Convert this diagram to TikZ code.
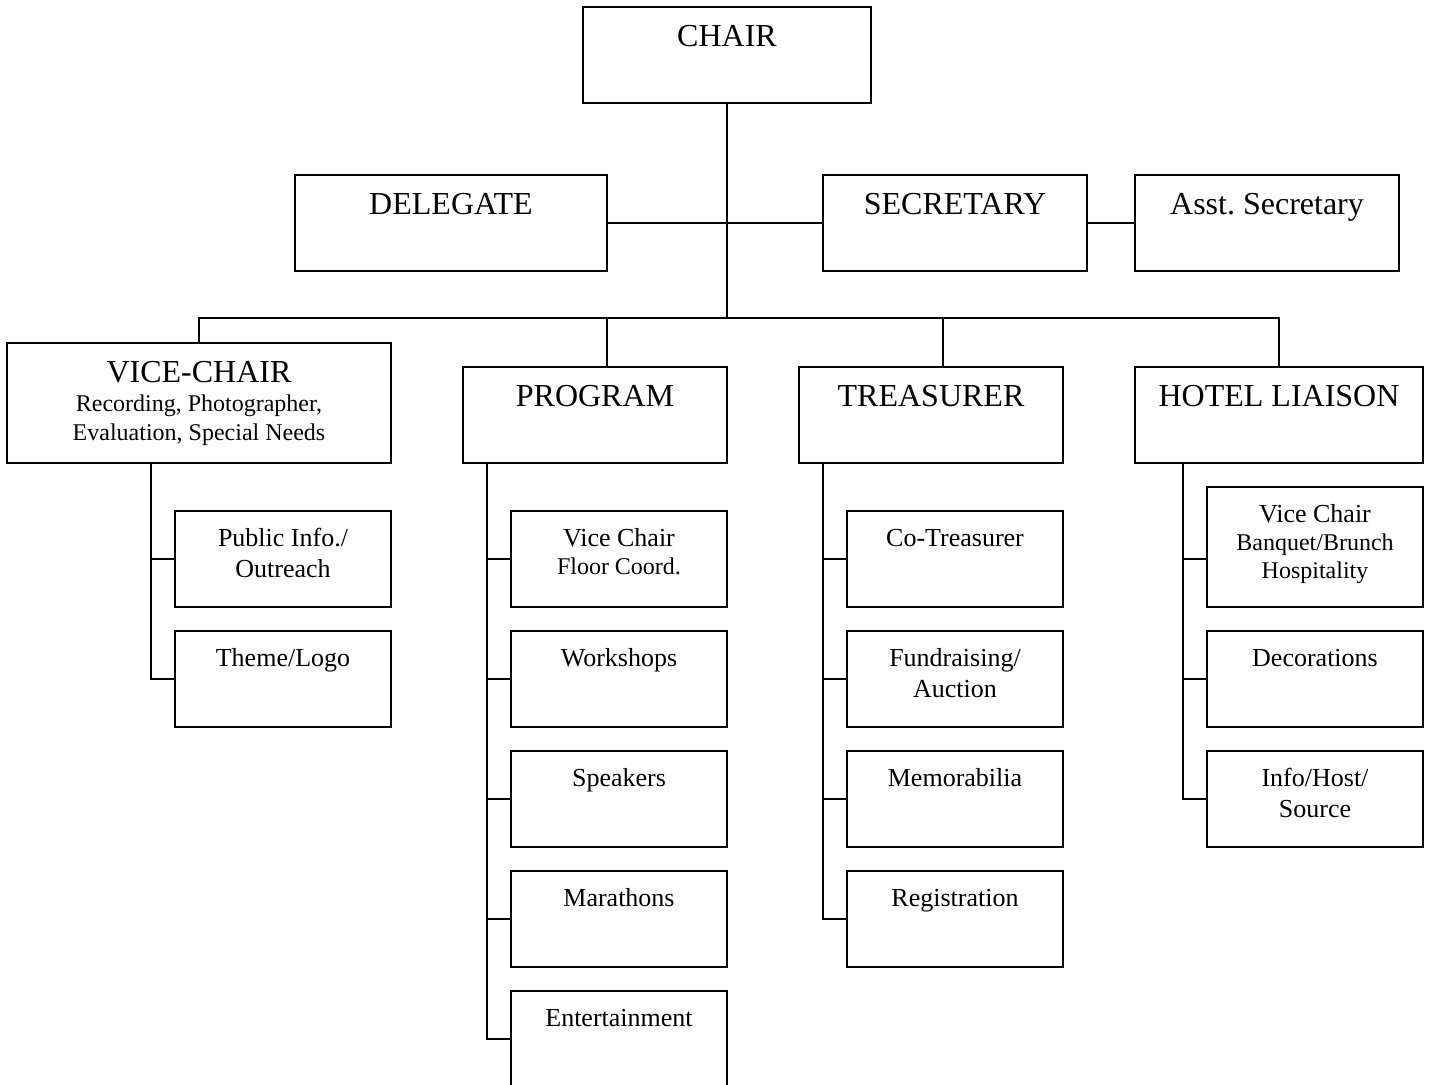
\documentclass[tikz,border=0pt]{standalone}
\usepackage{fontspec}
\setmainfont{Liberation Serif}
\usepackage{tikz}
\usetikzlibrary{positioning}
\usetikzlibrary{calc}
\frenchspacing

\begin{document}
\begin{tikzpicture}[
x=0.5pt, y=-0.5pt,
unitnode/.style={
    rectangle,
    draw=black,
    line width=1pt,
    align=center,
    anchor=north west,
    inner sep=0pt, % No inner spacing
    outer sep=0pt, % No outer spacing
},
headnode/.style={
    unitnode,
    font=\fontsize{16}{19}\selectfont,
    minimum height=48pt,
    text height=20pt,
    text depth=28pt,
},
dutynode/.style={
    unitnode,
    font=\fontsize{13}{15.5}\selectfont,
    minimum width=108pt,
    minimum height=48pt,
    text height=17.5pt,
    text depth=30.5pt,
},
link/.style={draw=black, line width=1pt},
]
\useasboundingbox (0,0) rectangle (1429,1085);

\node[headnode, minimum width=144pt] (chair) at (583,7) {CHAIR};
\node[headnode, minimum width=156pt] (delegate) at (295,175) {DELEGATE};
\node[headnode, minimum width=132pt] (secretary) at (823,175) {SECRETARY};
\node[headnode, minimum width=132pt] (asst) at (1135,175) {Asst.\ Secretary};

\node[headnode, minimum width=192pt, minimum height=60pt, text height=48.5pt, text depth=11.5pt, font=\fontsize{12}{14}\selectfont] (vicechair) at (7,343) {{\fontsize{16}{19}\selectfont VICE-CHAIR}\\[0.5pt] Recording, Photographer,\\ Evaluation, Special Needs};
\node[headnode, minimum width=132pt] (program) at (463,367) {PROGRAM};
\node[headnode, minimum width=132pt] (treasurer) at (799,367) {TREASURER};
\node[headnode, minimum width=144pt] (hotel) at (1135,367) {HOTEL LIAISON};

% vice-chair column
\node[dutynode, text height=33pt, text depth=15pt] (pubinfo) at (175,511) {Public Info./\\Outreach};
\node[dutynode, below=12pt of pubinfo] (theme) {Theme/Logo};

% program column
\node[dutynode, text height=31.5pt, text depth=16.5pt, font=\fontsize{12}{14}\selectfont] (progvice) at (511,511) {{\fontsize{13}{15.5}\selectfont Vice Chair}\\Floor Coord.};
\node[dutynode, below=12pt of progvice] (workshops) {Workshops};
\node[dutynode, below=12pt of workshops] (speakers) {Speakers};
\node[dutynode, below=12pt of speakers] (marathons) {Marathons};
\node[dutynode, below=12pt of marathons] (entertain) {Entertainment};

% treasurer column
\node[dutynode] (cotreas) at (847,511) {Co-Treasurer};
\node[dutynode, text height=33pt, text depth=15pt, below=12pt of cotreas] (fundraising) {Fundraising/\\Auction};
\node[dutynode, below=12pt of fundraising] (memorabilia) {Memorabilia};
\node[dutynode, below=12pt of memorabilia] (registration) {Registration};

% hotel column
\node[dutynode, minimum height=60pt, text height=45.5pt, text depth=14.5pt, font=\fontsize{12}{14}\selectfont] (hotelvice) at (1207,487) {{\fontsize{13}{15.5}\selectfont Vice Chair}\\Banquet/Brunch\\Hospitality};
\node[dutynode, below=12pt of hotelvice] (decorations) {Decorations};
\node[dutynode, text height=33pt, text depth=15pt, below=12pt of decorations] (infohost) {Info/Host/\\Source};

\coordinate (bus) at (727,318);
\draw[link] (chair.south) -- (bus);
\draw[link] (delegate.east) -- (secretary.west);
\draw[link] (secretary.east) -- (asst.west);
\draw[link] (vicechair.north) |- (bus) -| (hotel.north);

\coordinate (progtop) at ($(program.north)+(12,0)$);
\coordinate (treastop) at ($(treasurer.north)+(12,0)$);
\draw[link] (progtop) -- (progtop |- bus);
\draw[link] (treastop) -- (treastop |- bus);

\coordinate (vcspine) at ($(vicechair.south west)+(144,0)$);
\draw[link] (vcspine) |- (theme.west);
\draw[link] (pubinfo.west) -- (pubinfo.west -| vcspine);

\coordinate (progspine) at ($(program.south west)+(24,0)$);
\draw[link] (progspine) |- (entertain.west);
\draw[link] (progvice.west) -- (progvice.west -| progspine);
\draw[link] (workshops.west) -- (workshops.west -| progspine);
\draw[link] (speakers.west) -- (speakers.west -| progspine);
\draw[link] (marathons.west) -- (marathons.west -| progspine);

\coordinate (treasspine) at ($(treasurer.south west)+(24,0)$);
\draw[link] (treasspine) |- (registration.west);
\draw[link] (cotreas.west) -- (cotreas.west -| treasspine);
\draw[link] (fundraising.west) -- (fundraising.west -| treasspine);
\draw[link] (memorabilia.west) -- (memorabilia.west -| treasspine);

\coordinate (hotelspine) at ($(hotel.south west)+(48,0)$);
\coordinate (hotelvicein) at ($(hotelvice.west)+(0,12)$);
\draw[link] (hotelspine) |- (infohost.west);
\draw[link] (hotelvicein) -- (hotelvicein -| hotelspine);
\draw[link] (decorations.west) -- (decorations.west -| hotelspine);

\end{tikzpicture}
\end{document}
